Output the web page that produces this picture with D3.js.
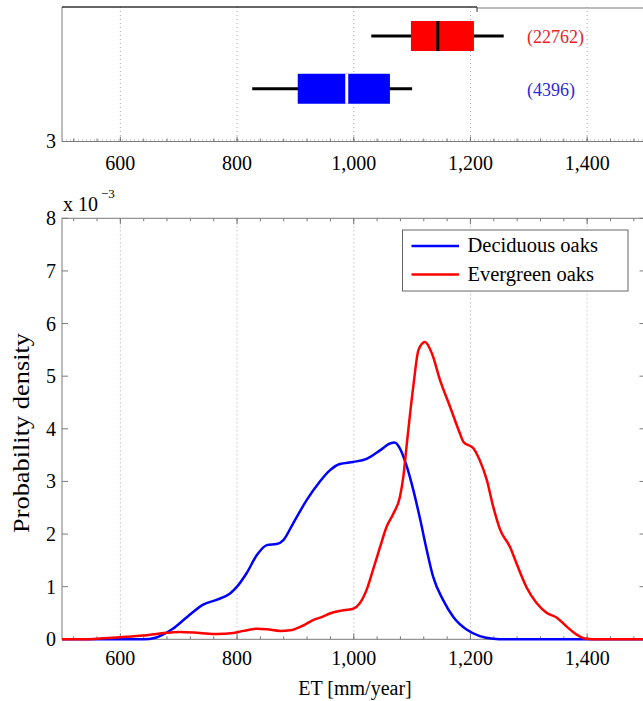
<!DOCTYPE html>
<html>
<head>
<meta charset="utf-8">
<script src="https://cdn.jsdelivr.net/npm/d3@7"></script>
<style>
  body { margin: 0; background: #fff; }
  svg text { font-family: "Liberation Serif", "Times New Roman", serif; }
</style>
</head>
<body>
<svg id="chart" width="643" height="701"></svg>
<script>
// ---- data ----
var xTicks = [600, 800, 1000, 1200, 1400];
var yTicks = [0, 1, 2, 3, 4, 5, 6, 7, 8];
var seriesNames = ["Deciduous oaks", "Evergreen oaks"];
var seriesColors = ["#0000ff", "#ff0000"];

// boxplot stats: [whiskerLow, q1, median, q3, whiskerHigh]
var boxEvergreen = [1030, 1098, 1144, 1206, 1257];
var boxDeciduous = [826, 904, 988, 1062, 1100];
var boxCounts = ["(22762)", "(4396)"];

// density curves (ET mm/year, density x 1e-3)
var decidX = [500, 600, 640, 660, 673, 690, 714, 742, 765, 788, 800, 816, 834, 851, 868, 879, 896, 919, 942, 959, 976, 999, 1022, 1045, 1062, 1070, 1079, 1091, 1102, 1114, 1125, 1136, 1153, 1171, 1194, 1216, 1239, 1260, 1500];
var decidY = [0, 0, 0, 0.03, 0.09, 0.2, 0.42, 0.66, 0.75, 0.87, 1.0, 1.25, 1.6, 1.79, 1.81, 1.88, 2.2, 2.64, 3.0, 3.21, 3.33, 3.37, 3.43, 3.59, 3.72, 3.74, 3.63, 3.28, 2.84, 2.27, 1.70, 1.19, 0.75, 0.42, 0.18, 0.06, 0.01, 0, 0];
var everX = [500, 540, 570, 600, 639, 668, 702, 736, 765, 794, 811, 834, 851, 874, 891, 913, 931, 945, 959, 976, 999, 1010, 1022, 1033, 1045, 1056, 1068, 1079, 1085, 1091, 1102, 1111, 1122, 1134, 1148, 1165, 1182, 1188, 1205, 1216, 1228, 1239, 1251, 1268, 1279, 1296, 1314, 1331, 1348, 1365, 1382, 1399, 1420, 1500];
var everY = [0, 0, 0.02, 0.04, 0.07, 0.11, 0.14, 0.12, 0.10, 0.12, 0.16, 0.2, 0.19, 0.16, 0.17, 0.26, 0.37, 0.42, 0.49, 0.54, 0.58, 0.68, 0.94, 1.32, 1.75, 2.13, 2.39, 2.70, 3.09, 3.72, 4.80, 5.50, 5.65, 5.43, 4.92, 4.42, 3.91, 3.75, 3.63, 3.40, 3.03, 2.52, 2.08, 1.75, 1.44, 0.99, 0.68, 0.50, 0.41, 0.24, 0.09, 0.01, 0, 0];

var svg = d3.select("#chart");
var axisColor = "#7a7a7a";

var x = d3.scaleLinear().domain([500, 1500]).range([62, 645.5]);
var minorTicks = d3.range(520, 1500, 40);

// ================= top: boxplots =================
var yBox = d3.scaleLinear().domain([0.45, 3]).range([7, 141.5]);
var topG = svg.append("g");

topG.selectAll(".vgrid").data(xTicks).enter().append("line")
    .attr("x1", function (d) { return x(d); }).attr("x2", function (d) { return x(d); })
    .attr("y1", yBox(0.45)).attr("y2", yBox(3))
    .attr("stroke", "#aaa").attr("stroke-dasharray", "1,3");
topG.append("line")
    .attr("x1", x(500)).attr("x2", 643).attr("y1", yBox(3) - 1.5).attr("y2", yBox(3) - 1.5)
    .attr("stroke", "#aaa").attr("stroke-dasharray", "1,3");

// frame
topG.append("line").attr("x1", x(500)).attr("x2", 643).attr("y1", yBox(3)).attr("y2", yBox(3)).attr("stroke", axisColor);
topG.append("line").attr("x1", x(500)).attr("x2", x(500)).attr("y1", yBox(0.45)).attr("y2", yBox(3)).attr("stroke", axisColor);
topG.append("line").attr("x1", x(500)).attr("x2", 477).attr("y1", yBox(0.45)).attr("y2", yBox(0.45)).attr("stroke", "#333").attr("stroke-width", 1.5);
topG.append("line").attr("x1", 477).attr("x2", 643).attr("y1", yBox(0.45) + 1).attr("y2", yBox(0.45) + 1).attr("stroke", axisColor);
topG.append("line").attr("x1", 477).attr("x2", 477).attr("y1", yBox(0.45)).attr("y2", yBox(0.45) + 5).attr("stroke", "#333");

topG.selectAll(".tk").data(xTicks).enter().append("line")
    .attr("x1", function (d) { return x(d); }).attr("x2", function (d) { return x(d); })
    .attr("y1", yBox(3)).attr("y2", yBox(3) - 5).attr("stroke", axisColor);
topG.selectAll(".mtk").data(minorTicks).enter().append("line")
    .attr("x1", function (d) { return x(d); }).attr("x2", function (d) { return x(d); })
    .attr("y1", yBox(3)).attr("y2", yBox(3) - 3).attr("stroke", axisColor);
topG.append("line").attr("x1", x(500)).attr("x2", x(500) + 5).attr("y1", yBox(3)).attr("y2", yBox(3)).attr("stroke", axisColor);

topG.selectAll(".tl").data(xTicks).enter().append("text")
    .attr("x", function (d) { return x(d); }).attr("y", 170)
    .attr("text-anchor", "middle").attr("font-size", 20)
    .text(function (d) { return d3.format(",")(d); });
topG.append("text").attr("x", 56).attr("y", 148).attr("text-anchor", "end").attr("font-size", 20).text("3");

var boxes = [
    { s: boxEvergreen, pos: 1, fill: "#ff0000", med: "#000", label: boxCounts[0], lc: "#e8232a" },
    { s: boxDeciduous, pos: 2, fill: "#0000ff", med: "#fff", label: boxCounts[1], lc: "#2b2bd6" }
];
var bh = 15;
boxes.forEach(function (b) {
    var cy = yBox(b.pos);
    topG.append("line").attr("x1", x(b.s[0])).attr("x2", x(b.s[4])).attr("y1", cy).attr("y2", cy)
        .attr("stroke", "#000").attr("stroke-width", 3);
    topG.append("rect").attr("x", x(b.s[1])).attr("y", cy - bh)
        .attr("width", x(b.s[3]) - x(b.s[1])).attr("height", 2 * bh)
        .attr("fill", b.fill);
    topG.append("line").attr("x1", x(b.s[2])).attr("x2", x(b.s[2])).attr("y1", cy - bh).attr("y2", cy + bh)
        .attr("stroke", b.med).attr("stroke-width", 3);
    topG.append("text").attr("x", 527).attr("y", cy + 7).attr("font-size", 18)
        .attr("fill", b.lc).text(b.label);
});

// ================= bottom: densities =================
var y = d3.scaleLinear().domain([0, 8]).range([639.3, 218.3]);
var bot = svg.append("g");

bot.selectAll(".vgrid").data(xTicks).enter().append("line")
    .attr("x1", function (d) { return x(d); }).attr("x2", function (d) { return x(d); })
    .attr("y1", y(0)).attr("y2", y(8))
    .attr("stroke", "#aaa").attr("stroke-dasharray", "1,3");

// frame
bot.append("rect").attr("x", x(500)).attr("y", y(8))
    .attr("width", x(1500) - x(500)).attr("height", y(0) - y(8))
    .attr("fill", "none").attr("stroke", axisColor);

[y(0), y(8)].forEach(function (yy, i) {
    var dir = i === 0 ? -1 : 1;
    bot.selectAll(null).data(xTicks).enter().append("line")
        .attr("x1", function (d) { return x(d); }).attr("x2", function (d) { return x(d); })
        .attr("y1", yy).attr("y2", yy + dir * 6).attr("stroke", axisColor);
    bot.selectAll(null).data(minorTicks).enter().append("line")
        .attr("x1", function (d) { return x(d); }).attr("x2", function (d) { return x(d); })
        .attr("y1", yy).attr("y2", yy + dir * 3).attr("stroke", axisColor);
});
[x(500), x(1500)].forEach(function (xx, i) {
    var dir = i === 0 ? 1 : -1;
    bot.selectAll(null).data(yTicks).enter().append("line")
        .attr("x1", xx).attr("x2", xx + dir * 6)
        .attr("y1", function (d) { return y(d); }).attr("y2", function (d) { return y(d); })
        .attr("stroke", axisColor);
});

bot.selectAll(".xl").data(xTicks).enter().append("text")
    .attr("x", function (d) { return x(d); }).attr("y", 665)
    .attr("text-anchor", "middle").attr("font-size", 20)
    .text(function (d) { return d3.format(",")(d); });
bot.selectAll(".yl").data(yTicks).enter().append("text")
    .attr("x", 56).attr("y", function (d) { return y(d) + 7; })
    .attr("text-anchor", "end").attr("font-size", 20)
    .text(function (d) { return d; });

bot.append("text").attr("x", 63).attr("y", 211).attr("font-size", 20).text("x 10");
bot.append("text").attr("x", 101).attr("y", 198).attr("font-size", 13).text("\u22123");

bot.append("text").attr("x", 355).attr("y", 695).attr("text-anchor", "middle")
    .attr("font-size", 20).text("ET [mm/year]");
bot.append("text").attr("transform", "translate(29,433) rotate(-90)")
    .attr("text-anchor", "middle").attr("font-size", 23)
    .attr("textLength", 200).attr("lengthAdjust", "spacingAndGlyphs")
    .text("Probability density");

var line = d3.line()
    .x(function (d) { return x(d[0]); })
    .y(function (d) { return y(d[1]); })
    .curve(d3.curveMonotoneX);

var curves = [d3.zip(decidX, decidY), d3.zip(everX, everY)];
svg.append("clipPath").attr("id", "clip").append("rect")
    .attr("x", x(500)).attr("y", y(8)).attr("width", x(1500) - x(500)).attr("height", y(0) - y(8) + 2);
bot.append("g").attr("clip-path", "url(#clip)")
    .selectAll("path").data(curves).enter().append("path")
    .attr("d", line)
    .attr("fill", "none")
    .attr("stroke", function (d, i) { return seriesColors[i]; })
    .attr("stroke-width", 2.5);

// legend
var lg = bot.append("g");
lg.append("rect").attr("x", 402.5).attr("y", 230).attr("width", 225.5).attr("height", 61)
    .attr("fill", "#fff").attr("stroke", "#666");
seriesNames.forEach(function (name, i) {
    var ly = 246 + i * 28.5;
    lg.append("line").attr("x1", 411.5).attr("x2", 459).attr("y1", ly).attr("y2", ly)
        .attr("stroke", seriesColors[i]).attr("stroke-width", 2.5);
    lg.append("text").attr("x", 467.5).attr("y", ly + 6).attr("font-size", 20.5).text(name);
});
</script>
</body>
</html>
